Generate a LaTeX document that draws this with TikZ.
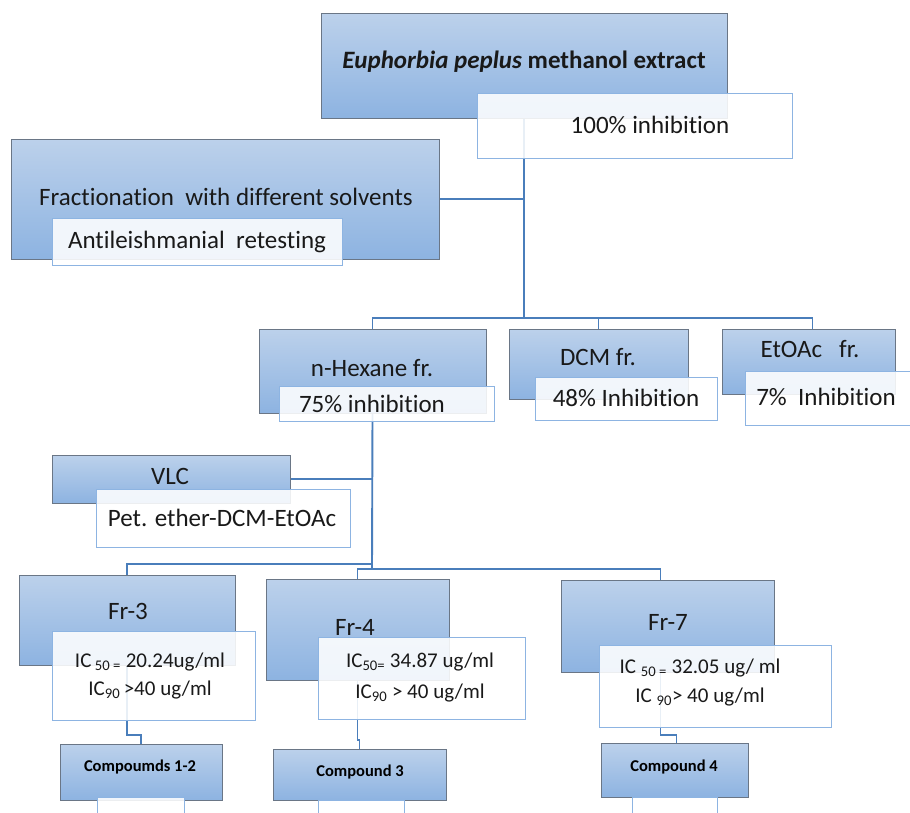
\documentclass[tikz,border=0pt]{standalone}
\usepackage{fontspec}
\setmainfont{Carlito}[Ligatures=NoCommon]
\pgfdeclarelayer{bg0}
\pgfdeclarelayer{background}
\pgfsetlayers{bg0,background,main}
\definecolor{btop}{HTML}{BCD1EB}
\definecolor{bbot}{HTML}{8DB3E1}
\definecolor{bedge}{HTML}{6A7686}
\definecolor{wedge}{HTML}{8DB4E2}
\definecolor{conn}{HTML}{4A7EBB}
\newcommand{\bx}[6]{\node[#1, minimum width={#4-#2}, minimum height={#5-#3}] (#6) at ({(#2+#4)/2},{(#3+#5)/2}) {};}
\begin{document}
\begin{tikzpicture}[x=1pt,y=-1pt,
  bluebox/.style={draw=bedge, line width=0.9pt, top color=btop, bottom color=bbot, inner sep=0pt, outer sep=0pt},
  whitebox/.style={draw=wedge, line width=1pt, fill=white, fill opacity=0.88, inner sep=0pt, outer sep=0pt},
  lbl/.style={font=\fontsize{25}{29}\selectfont, inner sep=0pt, text=black!90},
  ic/.style={font=\fontsize{21}{25}\selectfont, inner sep=0pt, text=black!90},
  cmp/.style={font=\bfseries\fontsize{16.5}{19}\selectfont, inner sep=0pt},
  link/.style={draw=conn, line width=1.9pt}]
\useasboundingbox (0,0) rectangle (910,812);
\begin{pgfonlayer}{bg0}
\fill[white] (0,0) rectangle (910,812);
\end{pgfonlayer}
% boxes
\bx{bluebox}{321}{13}{727}{118}{top}
\bx{whitebox}{477}{93}{792}{158}{w100}
\bx{bluebox}{11}{139}{439}{259}{frac}
\bx{whitebox}{52}{218}{342}{265}{wanti}
\bx{bluebox}{259}{329}{486}{413}{hex}
\bx{whitebox}{279}{386}{494}{421}{w75}
\bx{bluebox}{509}{329}{688}{399}{dcm}
\bx{whitebox}{535}{377}{717}{420}{w48}
\bx{bluebox}{722}{329}{895}{394}{eto}
\bx{whitebox}{745}{371}{918}{425}{w7}
\bx{bluebox}{52}{455}{290}{503}{vlc}
\bx{whitebox}{96}{489}{350}{547}{wpet}
\bx{bluebox}{19}{575}{235}{665}{fr3}
\bx{whitebox}{52}{631}{255}{720}{wfr3}
\bx{bluebox}{266}{579}{449}{680}{fr4}
\bx{whitebox}{318}{637}{525}{719}{wfr4}
\bx{bluebox}{561}{580}{774}{672}{fr7}
\bx{whitebox}{599}{645}{831}{727}{wfr7}
\bx{bluebox}{60}{744}{222}{800}{c12}
\bx{whitebox}{97}{797}{184}{820}{wc12}
\bx{bluebox}{273}{749}{446}{800}{c3}
\bx{whitebox}{318}{800}{404}{820}{wc3}
\bx{bluebox}{601}{743}{748}{797}{c4}
\bx{whitebox}{632}{797}{717}{820}{wc4}
% texts
\node[lbl] (ttop) at (524,62) {\textbf{\textit{Euphorbia peplus}} \textbf{methanol extract}};
\node[lbl] (t100) at (650,125) {100\% inhibition};
\node[lbl] (tfrac) at (226,197) {Fractionation\ \ with different solvents};
\node[lbl] (tanti) at (197,242) {Antileishmanial\ \ retesting};
\node[lbl] (thex) at (372,368) {n-Hexane fr.};
\node[lbl] (t75) at (372,404) {75\% inhibition};
\node[lbl] (tdcm) at (598,357) {DCM fr.};
\node[lbl] (t48) at (626,398) {48\% Inhibition};
\node[lbl] (teto) at (810,349) {EtOAc\ \ \ fr.};
\node[lbl] (t7) at (826,397) {7\%\ \ Inhibition};
\node[lbl] (tvlc) at (170,476) {VLC};
\node[lbl] (tpet) at (222,518) {Pet. ether-DCM-EtOAc};
\node[lbl] (tfr3) at (128,611) {Fr-3};
\node[ic] (t3a) at (150,662) {IC\,\textsubscript{50 =} 20.24ug/ml};
\node[ic] (t3b) at (150,690) {IC\textsubscript{90}\,>40 ug/ml};
\node[lbl] (tfr4) at (355,627) {Fr-4};
\node[ic] (t4a) at (420,662) {IC\textsubscript{50=} 34.87 ug/ml};
\node[ic] (t4b) at (420,693) {IC\textsubscript{90} > 40 ug/ml};
\node[lbl] (tfr7) at (668,622) {Fr-7};
\node[ic] (t7a) at (700,668) {IC \textsubscript{50 =} 32.05 ug/ ml};
\node[ic] (t7b) at (700,697) {IC \textsubscript{90}> 40 ug/ml};
\node[cmp] (tc12) at (140,767) {Compoumds 1-2};
\node[cmp] (tc3) at (360,772) {Compound 3};
\node[cmp] (tc4) at (674,767) {Compound 4};
% connectors
\coordinate (j1) at (524,318);
\coordinate (j2) at (372,564);
\coordinate (j3) at (372,569);
\begin{pgfonlayer}{background}
\draw[link] (top.south) -- (j1);
\draw[link] (frac.east) -- (frac.east -| j1);
\draw[link] (hex.north) |- (j1) -| ([xshift=4pt]eto.north);
\draw[link] (dcm.north) -- (dcm.north |- j1);
\draw[link] (hex.south) -- (j3);
\draw[link] (vlc.east) -- (vlc.east -| j2);
\draw[link] (fr3.north) |- (j2);
\draw[link] (fr4.north) |- (j3) -| ([xshift=-7pt]fr7.north);
\draw[link] (fr3.south) -- ++(0,70) -| (c12.north);
\draw[link] (fr4.south) -- ++(0,60) -| (c3.north);
\draw[link] ([xshift=-7pt]fr7.south) -- ++(0,63) -| ([xshift=2pt]c4.north);
\end{pgfonlayer}
\end{tikzpicture}
\end{document}
